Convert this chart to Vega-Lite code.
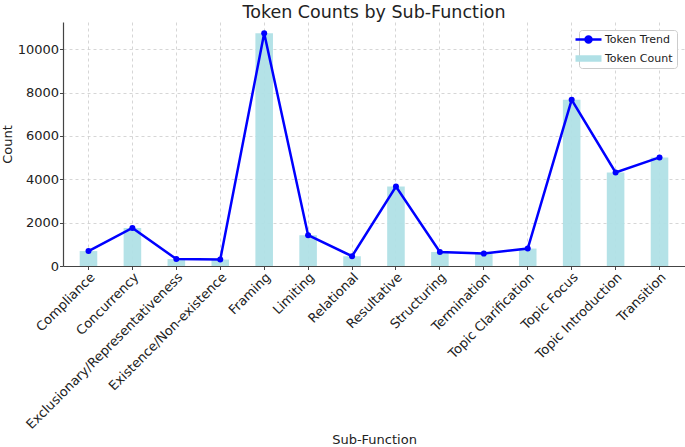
{
  "$schema": "https://vega.github.io/schema/vega-lite/v6.json",
  "autosize": {"type": "none"},
  "width": 622,
  "height": 244,
  "padding": {"left": 63, "top": 22, "right": 0, "bottom": 181},
  "title": {"text": "Token Counts by Sub-Function", "fontSize": 17.5, "fontWeight": "normal", "color": "#222", "offset": 1},
  "data": {
    "values": [
      {"sub": "Compliance", "count": 690},
      {"sub": "Concurrency", "count": 1755},
      {"sub": "Exclusionary/Representativeness", "count": 320},
      {"sub": "Existence/Non-existence", "count": 295},
      {"sub": "Framing", "count": 10740},
      {"sub": "Limiting", "count": 1420},
      {"sub": "Relational", "count": 450},
      {"sub": "Resultative", "count": 3670},
      {"sub": "Structuring", "count": 645},
      {"sub": "Termination", "count": 575},
      {"sub": "Topic Clarification", "count": 805},
      {"sub": "Topic Focus", "count": 7670},
      {"sub": "Topic Introduction", "count": 4315},
      {"sub": "Transition", "count": 5010}
    ]
  },
  "encoding": {
    "x": {
      "field": "sub", "type": "nominal", "sort": null, "title": "Sub-Function",
      "scale": {"paddingInner": 0.6, "paddingOuter": 0.38},
      "axis": {"labelAngle": -45, "grid": true, "bandPosition": 0.5, "labelLimit": 0, "titlePadding": 2, "labelPadding": 1}
    },
    "y": {
      "field": "count", "type": "quantitative", "title": "Count",
      "scale": {"domain": [0, 11260], "nice": false},
      "axis": {"values": [0, 2000, 4000, 6000, 8000, 10000], "format": "d", "grid": true, "titlePadding": 3, "labelPadding": 1}
    }
  },
  "layer": [
    {
      "mark": {"type": "bar", "opacity": 0.95},
      "encoding": {"color": {"datum": "Token Count"}}
    },
    {
      "mark": {"type": "line", "strokeWidth": 2.5, "point": {"filled": true, "size": 36}},
      "encoding": {
        "color": {
          "datum": "Token Trend",
          "scale": {"domain": ["Token Trend", "Token Count"], "range": ["#0000ff", "#b0e0e6"]},
          "legend": {
            "title": null,
            "orient": "top-right",
            "offset": 8,
            "padding": 4,
            "strokeColor": "#cccccc",
            "cornerRadius": 3,
            "fillColor": "white",
            "labelFontSize": 11,
            "labelColor": "#222",
            "symbolSize": 676,
            "rowPadding": 4,
            "labelOffset": 11,
            "encode": {
              "symbols": {
                "update": {
                  "shape": {"signal": "datum.value === 'Token Trend' ? 'M-1,0H1M-0.23,0A0.23,0.23 0 1 1 0.23,0A0.23,0.23 0 1 1 -0.23,0' : 'M-1,-0.25H1V0.25H-1Z'"},
                  "fill": {"signal": "datum.value === 'Token Trend' ? '#0000ff' : '#b0e0e6'"},
                  "stroke": {"signal": "datum.value === 'Token Trend' ? '#0000ff' : '#b0e0e6'"},
                  "strokeWidth": {"signal": "datum.value === 'Token Trend' ? 2.5 : 0"},
                  "opacity": {"value": 1}
                }
              }
            }
          }
        }
      }
    }
  ],
  "config": {
    "font": "DejaVu Sans",
    "view": {"stroke": null},
    "axis": {
      "labelFontSize": 13,
      "titleFontSize": 13,
      "titleFontWeight": "normal",
      "labelColor": "#222",
      "titleColor": "#222",
      "domainColor": "#444",
      "domainWidth": 1.2,
      "tickColor": "#444",
      "tickSize": 3.5,
      "gridColor": "#cccccc",
      "gridDash": [3, 3],
      "gridWidth": 0.8
    }
  }
}
